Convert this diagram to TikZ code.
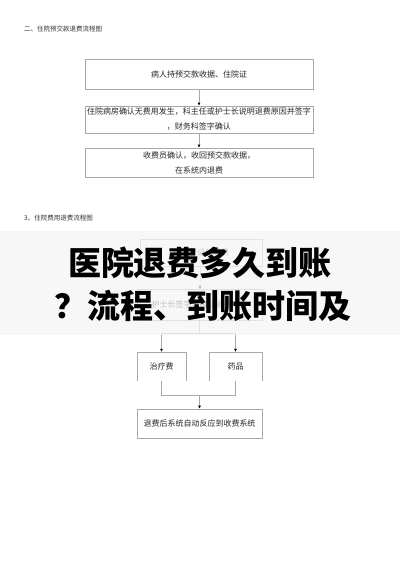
\documentclass[tikz,border=0pt]{standalone}
\usepackage{fontspec}
\setmainfont{Noto Sans CJK SC}
\newfontfamily\cjk{Noto Sans CJK SC}
\newfontfamily\bannerfont{Noto Sans CJK SC}[UprightFont=* Black]
\usetikzlibrary{arrows.meta}
\begin{document}
\begin{tikzpicture}[x=1pt,y=-1pt,
  flowbox/.style={draw=boxgray,line width=0.6pt,inner sep=0pt,align=center,font=\cjk\fontsize{8}{15}\selectfont,text=black!85},
  openbox/.style={inner sep=0pt,align=center,font=\cjk\fontsize{8}{15}\selectfont,text=black!85},
  conn/.style={draw=boxgray,line width=0.6pt},
  arr/.style={conn,-{Latex[length=3pt,width=3pt,black]}},
  heading/.style={anchor=west,inner sep=0pt,font=\cjk\fontsize{6.5}{8}\selectfont,text=black!80},
  bannertext/.style={inner sep=0pt,font=\bannerfont\fontsize{33}{36}\selectfont,text=black}]
\definecolor{boxgray}{HTML}{A8A8A8}
\useasboundingbox[fill=white] (0,0) rectangle (400,566);
% chart 1
\node[heading] (h1) at (24,29) {二、住院预交款退费流程图};
\node[flowbox,minimum width=228pt,minimum height=30pt] (b1) at (199,74) {病人持预交款收据、住院证};
\node[flowbox,minimum width=228pt,minimum height=27pt] (b2) at (199,119.5) {住院病房确认无费用发生，科主任或护士长说明退费原因并签字\\，财务科签字确认};
\node[flowbox,minimum width=228pt,minimum height=29pt] (b3) at (199,162.5) {收费员确认，收回预交款收据，\\在系统内退费};
\draw[arr] (b1) -- (b2);
\draw[arr] (b2) -- (b3);
% chart 2
\node[heading] (h2) at (24,218) {3、住院费用退费流程图};
\node[flowbox,minimum width=122pt,minimum height=27pt] (c1) at (201,252.5) {住院登记处退费};
\node[flowbox,minimum width=125pt,minimum height=31pt] (c2) at (199.5,305) {护士长签字，确认退费项目};
\node[openbox,minimum width=49pt,minimum height=29pt] (c3) at (161.5,366.5) {治疗费};
\node[openbox,minimum width=53pt,minimum height=29pt] (c4) at (235.5,366.5) {药品};
\draw[conn] (c3.south west) -- (c3.north west) -- (c3.north east) -- (c3.south east);
\draw[conn] (c4.south west) -- (c4.north west) -- (c4.north east) -- (c4.south east);
\node[flowbox,minimum width=125pt,minimum height=29pt] (c5) at (199.5,423.5) {退费后系统自动反应到收费系统};
\draw[arr] (c1) -- (c2);
\coordinate (s1) at (199.5,333);
\coordinate (s1l) at (161.5,333);
\coordinate (s1r) at (235.5,333);
\draw[conn] (c2.south) -- (s1);
\draw[conn] (s1l) -- (s1r);
\draw[arr] (s1l) -- (c3.north);
\draw[arr] (s1r) -- (c4.north);
\coordinate (s2) at (199.5,395);
\coordinate (s2l) at (161.5,395);
\coordinate (s2r) at (235.5,395);
\draw[conn] (c3.south) -- (s2l) -- (s2r) -- (c4.south);
\draw[arr] (s2) -- (c5.north);
% banner
\fill[fill=black!4,fill opacity=0.75] (0,231) rectangle (400,335);
\node[bannertext] (t1) at (200,263) {医院退费多久到账};
\node[bannertext] (t2) at (203,306) {？流程、到账时间及};
\end{tikzpicture}
\end{document}
